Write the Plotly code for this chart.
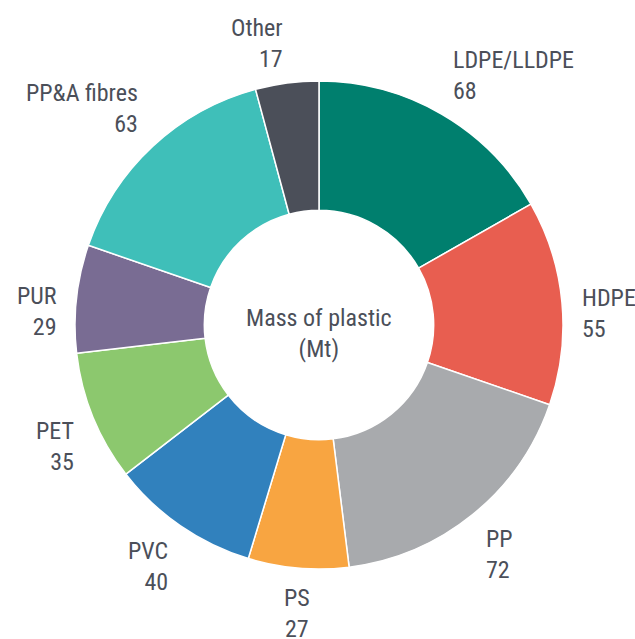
import math
import plotly.graph_objects as go

# Global plastic mass by polymer (Mt)
polymers = ["LDPE/LLDPE", "HDPE", "PP", "PS", "PVC", "PET", "PUR", "PP&A fibres", "Other"]
mass_mt = [68, 55, 72, 27, 40, 35, 29, 63, 17]
slice_colors = ["#007F6E", "#E85E50", "#A8AAAD", "#F8A541", "#3181BD",
                "#8CC86E", "#796C93", "#3FBFB9", "#4B4F59"]

TEXT_COLOR = "#4B4F59"
FONT = "Roboto Condensed, DejaVu Sans Condensed, Liberation Sans Narrow, Arial Narrow, sans-serif"

fig = go.Figure(go.Pie(
    labels=polymers,
    values=mass_mt,
    hole=0.47,
    sort=False,
    direction="clockwise",
    rotation=0,
    marker=dict(colors=slice_colors, line=dict(color="white", width=1.5)),
    textinfo="none",
    hoverinfo="label+value",
))

# centre caption inside the hole
fig.add_annotation(
    x=0.5, y=0.5, xref="paper", yref="paper",
    text="Mass of plastic<br>(Mt)", showarrow=False,
    xanchor="center", yanchor="middle", align="center", yshift=-8,
    font=dict(family=FONT, size=24, color=TEXT_COLOR),
)

# plot area is 488 px square, labels sit just outside the ring
plot_px = 488
label_rx = 262
total = sum(mass_mt)
cum = 0
for name, v in zip(polymers, mass_mt):
    mid = (cum + v / 2) / total * 2 * math.pi
    cum += v
    s, c = math.sin(mid), math.cos(mid)
    if abs(s) < 0.1 and c < 0:
        xa = "center"
    else:
        xa = "left" if s > 0 else "right"
    if c > 0.3:
        ya, dy, shift = "bottom", 248 * c, 4
    elif c < -0.3:
        ya, dy, shift = "top", 270 * c, 12
    else:
        ya, dy, shift = "middle", 124 * c, 0
    fig.add_annotation(
        x=0.5 + label_rx * s / plot_px,
        y=0.5 + dy / plot_px,
        xref="paper", yref="paper",
        text=f"{name}<br>{v}",
        showarrow=False,
        xanchor=xa, yanchor=ya, align=xa, yshift=shift,
        font=dict(family=FONT, size=24, color=TEXT_COLOR),
    )

fig.update_layout(
    width=635, height=639,
    margin=dict(l=75, r=72, t=81, b=70),
    showlegend=False,
    paper_bgcolor="white",
    plot_bgcolor="white",
)

# drop the default page margin so the figure fills the window exactly
fig.write_html("out.html", config={"displayModeBar": False},
               post_script="document.body.style.margin = '0';")
